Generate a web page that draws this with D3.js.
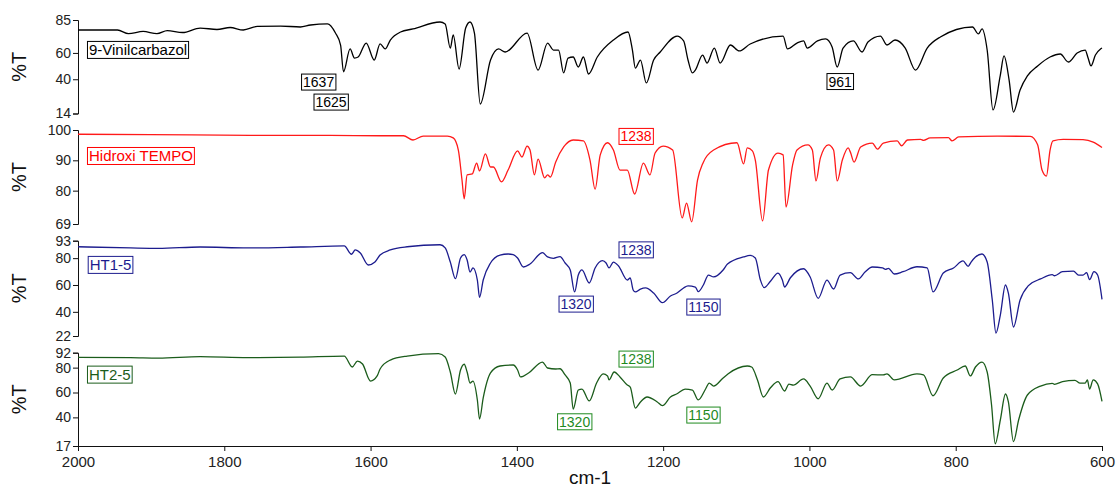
<!DOCTYPE html>
<html>
<head>
<meta charset="utf-8">
<script src="https://cdn.jsdelivr.net/npm/d3@7"></script>
<style>
body{margin:0;background:#fff;}
svg{display:block;font-family:"Liberation Sans",Arial,sans-serif;}
</style>
</head>
<body>
<svg id="chart" width="1117" height="487"></svg>
<script>
'use strict'

// wavenumber (cm-1) / %T pairs
const vinilWn = [2000,1946,1931,1911,1892,1878,1857,1833,1810,1792,
	1774,1755,1723,1696,1682,1659,1648,1641,1637,1628,
	1622,1617,1606,1595,1587,1580,1573,1559,1542,1505,
	1498,1491,1487,1479,1470,1464,1458,1450,1436,1425,
	1416,1386,1371,1358,1350,1343,1336,1330,1323,1316,
	1309,1302,1290,1268,1248,1242,1238,1231,1223,1213,
	1204,1181,1172,1166,1160,1156,1146,1140,1130,1122,
	1108,1096,1081,1036,1030,1017,1008,1003,989,978,
	969,962,954,940,928,920,903,894,883,869,
	855,839,821,777,769,764,757,749,739,734,
	727,721,712,702,688,671,657,646,634,623,
	619,615,609,602,600]
const vinilT = [77.4,77.4,74.6,76.3,74.7,77.0,75.5,78.9,77.8,79.3,
	77.4,80.1,80.4,79.7,81.2,82.0,75.1,66.0,45.7,63.0,
	56.1,56.9,67.5,54.6,66.8,63.0,69.8,75.9,78.2,83.5,
	82.0,63.7,73.6,47.8,78.9,83.5,75.1,21.2,54.6,63.0,
	60.7,75.1,47.0,67.5,62.2,62.2,44.8,56.1,56.9,49.3,
	56.9,44.0,56.9,69.8,75.9,62.2,48.5,54.6,37.2,54.6,
	60.7,72.8,69.1,54.6,44.8,47.0,58.4,52.3,63.7,52.3,
	66.0,61.5,66.8,72.8,63.0,67.5,69.1,63.7,69.1,70.6,
	64.5,49.3,63.7,69.1,60.7,68.3,72.8,66.0,69.8,63.7,
	47.0,63.7,72.1,79.7,74.4,78.2,62.2,16.7,43.2,57.7,
	39.4,15.1,31.8,42.5,50.1,56.9,59.2,53.1,59.9,62.2,
	56.1,50.1,58.4,63.0,63.7]

const tempoWn = [2000,1901,1764,1655,1587,1555,1542,1528,1495,1487,
	1480,1475,1472,1468,1461,1455,1451,1443,1436,1432,
	1421,1412,1399,1393,1386,1382,1376,1371,1362,1358,
	1354,1347,1336,1323,1309,1300,1293,1286,1276,1268,
	1259,1249,1239,1227,1218,1211,1200,1187,1174,1168,
	1161,1153,1145,1131,1099,1090,1085,1078,1074,1064,
	1056,1043,1036,1032,1023,1017,1002,996,991,985,
	974,967,962,955,947,944,939,930,914,907,
	899,880,874,866,848,844,835,810,805,796,
	743,698,688,682,676,671,667,653,626,612,
	600]
const tempoT = [98.6,98.5,98.2,98.2,98.1,98.1,96.7,98.0,98.0,97.4,
	93.4,83.5,77.3,85.2,85.5,89.1,86.5,92.1,87.8,87.8,
	82.9,86.8,93.1,91.1,94.7,93.4,85.2,90.4,84.2,85.2,
	84.5,89.4,94.4,96.7,96.4,90.1,80.5,91.8,95.8,93.4,
	86.8,86.8,78.9,89.1,85.2,92.4,94.7,93.4,71.0,75.9,
	69.7,83.5,89.4,93.4,95.8,88.8,94.1,93.1,90.1,70.0,
	86.8,92.4,91.8,74.6,88.5,93.4,95.1,93.4,83.2,90.8,
	95.1,93.4,83.2,90.1,94.1,92.7,89.4,94.4,95.7,93.7,
	95.7,96.4,94.8,96.7,96.9,96.6,97.4,97.5,96.4,97.7,
	98.0,97.9,95.1,86.8,84.8,93.4,96.4,96.9,96.8,96.0,
	94.2]

const ht1Wn = [2000,1928,1890,1833,1768,1696,1636,1626,1621,1614,
	1603,1594,1587,1573,1550,1505,1498,1491,1484,1477,
	1472,1468,1464,1460,1454,1451,1446,1436,1423,1412,
	1405,1399,1391,1382,1365,1358,1350,1341,1334,1327,
	1321,1316,1311,1301,1293,1283,1278,1274,1268,1261,
	1249,1245,1241,1238,1231,1224,1213,1201,1190,1181,
	1172,1166,1156,1152,1145,1138,1131,1118,1112,1090,
	1081,1074,1067,1062,1053,1043,1037,1034,1026,1008,
	999,988,976,967,958,944,933,924,914,900,
	896,892,884,872,853,839,831,817,803,790,
	783,779,773,764,757,750,745,739,732,728,
	721,712,701,684,668,665,654,639,632,626,
	621,617,611,606,600]
const ht1T = [88.5,87.6,87.3,88.3,87.6,88.3,89.1,82.9,86.1,83.8,
	74.9,77.1,82.3,86.1,88.5,90.0,87.6,77.1,64.7,80.1,
	82.6,78.6,69.7,72.7,63.7,50.8,63.7,76.4,82.3,83.1,
	82.6,80.1,73.4,75.6,84.1,80.9,79.9,81.1,76.4,71.2,
	54.8,67.4,71.2,61.5,72.7,78.1,76.4,72.7,77.1,74.2,
	63.7,65.2,56.3,54.8,57.0,57.8,54.0,46.8,51.8,54.0,
	57.8,59.3,58.5,55.0,60.0,67.4,66.0,71.2,75.6,80.9,
	82.0,80.1,63.7,58.1,63.0,68.9,63.7,58.5,65.4,72.1,
	66.0,50.1,63.7,57.0,67.4,69.2,64.5,69.7,73.4,72.7,
	71.7,72.4,68.2,69.9,73.6,72.7,54.8,68.9,72.7,77.9,
	73.9,77.1,80.9,83.1,77.1,48.8,24.2,37.6,60.0,54.0,
	28.7,48.8,59.3,64.5,67.7,66.9,69.9,70.4,67.4,67.4,
	69.2,64.0,69.9,67.4,49.3]

const ht2Wn = [2000,1928,1890,1833,1768,1696,1636,1625,1618,1611,
	1600,1591,1587,1573,1550,1507,1498,1491,1484,1477,
	1472,1468,1464,1460,1454,1451,1446,1436,1423,1405,
	1399,1395,1384,1365,1358,1347,1341,1334,1327,1323,
	1316,1311,1301,1291,1282,1276,1274,1267,1259,1249,
	1245,1238,1231,1222,1208,1201,1190,1181,1170,1160,
	1152,1142,1137,1131,1118,1111,1085,1079,1071,1063,
	1053,1043,1034,1028,1022,1008,999,988,976,969,
	958,944,930,914,899,894,884,853,844,831,
	817,798,787,780,773,764,757,751,746,739,
	732,728,721,714,702,684,668,665,654,637,
	630,623,620,617,612,606,600]
const ht2T = [88.3,88.1,87.7,88.9,88.1,88.5,89.3,80.5,85.3,82.9,
	69.2,73.3,78.9,86.1,89.3,91.2,88.5,76.5,58.8,78.1,
	82.7,76.5,67.6,69.2,54.0,38.7,55.6,75.7,81.3,82.1,
	78.1,72.5,75.7,84.5,79.7,78.9,79.1,74.1,67.6,46.7,
	62.0,62.8,53.2,67.6,74.9,73.3,70.1,76.5,72.5,66.0,
	64.4,47.5,52.4,56.4,52.4,49.4,56.4,59.0,62.8,62.0,
	54.0,62.8,67.6,65.2,71.7,75.1,81.3,80.5,70.1,56.4,
	64.0,68.8,61.2,66.8,66.0,70.9,65.2,55.0,67.6,62.0,
	70.9,72.5,65.2,74.3,74.1,74.9,70.1,74.9,74.1,57.4,
	71.7,78.1,81.3,73.3,80.5,84.5,76.5,50.0,18.8,37.9,
	58.8,52.4,20.5,37.9,58.0,65.2,67.4,66.6,68.7,69.8,
	67.6,67.6,70.1,62.8,70.1,66.9,52.9]

// axis ticks
const xTicks = [2000,1800,1600,1400,1200,1000,800,600]
const vinilTicks = [85,60,40,14]
const tempoTicks = [100,90,80,69]
const ht1Ticks = [93,80,60,40,22]
const ht2Ticks = [92,80,60,40,17]

// boxed labels, placed at (cm-1, %T)
const vinilNotes = [
	{text: '9-Vinilcarbazol', wn: 1985, t: 62.2, name: true},
	{text: '1637', wn: 1671, t: 37.9},
	{text: '1625', wn: 1654, t: 22.7},
	{text: '961', wn: 958, t: 38.3}
]
const tempoNotes = [
	{text: 'Hidroxi TEMPO', wn: 1985, t: 91.4, name: true},
	{text: '1238', wn: 1237, t: 97.9}
]
const ht1Notes = [
	{text: 'HT1-5', wn: 1984, t: 74.9, name: true},
	{text: '1238', wn: 1237, t: 86.2},
	{text: '1320', wn: 1319, t: 45.8},
	{text: '1150', wn: 1145, t: 43.6}
]
const ht2Notes = [
	{text: 'HT2-5', wn: 1985, t: 74.3, name: true},
	{text: '1238', wn: 1237, t: 86.9},
	{text: '1320', wn: 1321, t: 36.5},
	{text: '1150', wn: 1145, t: 41.9}
]

const panels = [
	{wn: vinilWn, t: vinilT, ticks: vinilTicks, notes: vinilNotes, top: 20, bottom: 113.5,
		line: '#000', name: '#000', note: '#000'},
	{wn: tempoWn, t: tempoT, ticks: tempoTicks, notes: tempoNotes, top: 130, bottom: 224,
		line: '#ff1a1a', name: '#ff0000', note: '#ff0000'},
	{wn: ht1Wn, t: ht1T, ticks: ht1Ticks, notes: ht1Notes, top: 240.7, bottom: 336,
		line: '#1c1c8e', name: '#1c1c8e', note: '#1c1c8e'},
	{wn: ht2Wn, t: ht2T, ticks: ht2Ticks, notes: ht2Notes, top: 352.7, bottom: 446,
		line: '#1b5c1b', name: '#1b5c1b', note: '#1f8a1f'}
]

const left = 78, right = 1102

let svg = d3.select('#chart')
let x = d3.scaleLinear().domain([2000, 600]).range([left, right])

panels.forEach(function(p){
	let y = d3.scaleLinear().domain(d3.extent(p.ticks)).range([p.bottom, p.top])
	let g = svg.append('g')

	let ax = g.append('g')
		.attr('transform', 'translate(' + left + ',0)')
		.call(d3.axisLeft(y).tickValues(p.ticks).tickSize(5).tickSizeOuter(5).tickPadding(2))
	ax.selectAll('text').style('font-size', '14px').attr('fill', '#222')
	ax.selectAll('line,path').attr('stroke', '#111')

	let line = d3.line()
		.x(function(d, i){ return x(p.wn[i]) })
		.y(function(d){ return y(d) })
		.curve(d3.curveMonotoneX)

	g.append('path')
		.datum(p.t)
		.attr('d', line)
		.attr('fill', 'none')
		.attr('stroke', p.line)
		.attr('stroke-width', 1.3)

	g.append('text')
		.attr('transform', 'translate(26,' + ((p.top + p.bottom) / 2) + ') rotate(-90)')
		.attr('text-anchor', 'middle')
		.style('font-size', '20px')
		.attr('fill', '#111')
		.text('%T')

	p.notes.forEach(function(n){
		let col = n.name ? p.name : p.note
		let t = g.append('text')
			.attr('x', x(n.wn))
			.attr('y', y(n.t))
			.attr('dy', '0.36em')
			.attr('text-anchor', n.name ? 'start' : 'middle')
			.style('font-size', n.name ? '15px' : '14px')
			.attr('fill', col)
			.text(n.text)
		let bb = t.node().getBBox()
		g.insert('rect', function(){ return t.node() })
			.attr('x', bb.x - 1.5)
			.attr('y', bb.y)
			.attr('width', bb.width + 3)
			.attr('height', bb.height)
			.attr('fill', '#fff')
			.attr('stroke', col)
			.attr('stroke-width', 1)
	})
})

// shared x axis under the last panel
let xa = svg.append('g')
	.attr('transform', 'translate(0,446)')
	.call(d3.axisBottom(x).tickValues(xTicks).tickFormat(d3.format('d'))
		.tickSize(5).tickSizeOuter(0).tickPadding(5))
xa.selectAll('text').style('font-size', '15px').attr('fill', '#222')
xa.selectAll('line,path').attr('stroke', '#111')

svg.append('text')
	.attr('x', (left + right) / 2)
	.attr('y', 484)
	.attr('text-anchor', 'middle')
	.style('font-size', '19px')
	.attr('fill', '#111')
	.text('cm-1')
</script>
</body>
</html>
